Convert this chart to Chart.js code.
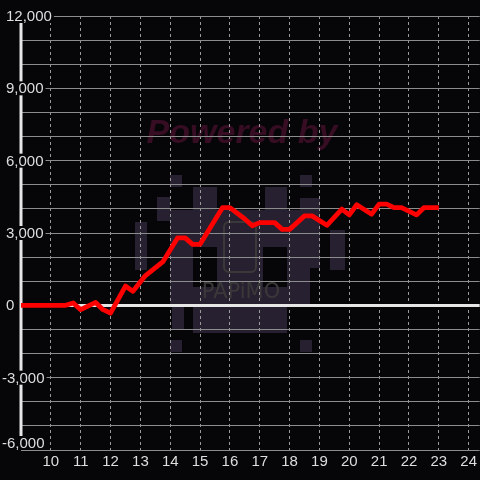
<!DOCTYPE html>
<html>
<head>
<meta charset="utf-8">
<script src="https://cdn.jsdelivr.net/npm/chart.js@4/dist/chart.umd.min.js"></script>
<style>
  html, body { margin: 0; padding: 0; background: #060508; }
  #wrap { width: 480px; height: 480px; }
</style>
</head>
<body>
<div id="wrap"><canvas id="myChart" width="480" height="480"></canvas></div>
<script>
// hour of day / running total
const hours = [9, 10.5, 10.75, 11, 11.5, 11.75, 12, 12.5, 12.75, 13.15, 13.75, 14.25, 14.5, 14.75, 15,
  15.75, 16, 16.5, 16.75, 17, 17.5, 17.75, 18, 18.5, 18.75, 19.25, 19.75, 20, 20.25, 20.75,
  21, 21.25, 21.5, 21.75, 22.25, 22.5, 23]
const totals = [0, 0, 100, -180, 120, -180, -320, 800, 580, 1210, 1800, 2800, 2800, 2530, 2530,
  4050, 4050, 3580, 3300, 3430, 3430, 3150, 3150, 3710, 3710, 3320, 3990, 3750, 4170, 3780,
  4200, 4200, 4050, 4050, 3750, 4050, 4050]
const xTicks = [10, 11, 12, 13, 14, 15, 16, 17, 18, 19, 20, 21, 22, 23, 24]
const yLabels = [12000, 9000, 6000, 3000, 0, -3000, -6000]

const BG = '#060508'
const TEXT = '#dedede'
const FONT = '15px "Liberation Sans", Arial, sans-serif'

const watermark = {
  id: 'watermark',
  beforeDraw (chart) {
    const ctx = chart.ctx
    ctx.save()
    ctx.fillStyle = BG
    ctx.fillRect(0, 0, chart.width, chart.height)
    // pixel figure
    ctx.fillStyle = '#272030'
    const blocks = [[170, 175, 12, 12], [300, 175, 12, 12], [157, 197, 13, 24], [135, 222, 12, 48],
      [193, 187, 24, 30], [170, 210, 140, 97], [193, 307, 94, 26], [300, 198, 20, 70],
      [330, 230, 15, 40], [170, 340, 12, 12], [300, 340, 12, 12], [265, 187, 22, 25], [172, 300, 12, 30]]
    blocks.forEach(b => ctx.fillRect(b[0], b[1], b[2], b[3]))
    ctx.fillStyle = BG
    ctx.fillRect(193, 247, 24, 40)
    ctx.fillRect(263, 247, 24, 40)
    ctx.strokeStyle = '#3a3838'
    ctx.lineWidth = 2
    ctx.beginPath()
    ctx.roundRect(224, 222, 32, 50, 5)
    ctx.stroke()
    ctx.fillStyle = '#3a3838'
    ctx.font = '21px "DejaVu Sans", sans-serif'
    ctx.textAlign = 'center'
    ctx.textBaseline = 'middle'
    ctx.fillText('PAPiMO', 241, 293)
    ctx.fillStyle = '#360d22'
    ctx.font = 'italic bold 34px "Liberation Sans", Arial, sans-serif'
    ctx.fillText('Powered by', 242, 134)
    ctx.restore()
  }
}

const yAxis = {
  id: 'yAxis',
  beforeDatasetsDraw (chart) {
    const ctx = chart.ctx
    const area = chart.chartArea
    const y = chart.scales.y
    ctx.save()
    ctx.strokeStyle = '#e6e6e6'
    ctx.lineWidth = 3
    ctx.beginPath()
    ctx.moveTo(area.left, area.top)
    ctx.lineTo(area.left, area.bottom)
    ctx.stroke()
    ctx.font = FONT
    ctx.textBaseline = 'middle'
    ctx.textAlign = 'left'
    yLabels.forEach(v => {
      const py = Math.min(y.getPixelForValue(v), area.bottom - 7)
      const txt = v.toLocaleString('en-US')
      const left = v < 0 ? 2 : 6
      const w = ctx.measureText(txt).width
      ctx.fillStyle = BG
      ctx.fillRect(left - 1, py - 7, w + 3, 14)
      ctx.fillStyle = TEXT
      ctx.fillText(txt, left, py + 1)
    })
    ctx.restore()
  }
}

new Chart(document.getElementById('myChart'), {
  type: 'line',
  data: {
    datasets: [{
      data: hours.map((h, i) => ({ x: h, y: totals[i] })),
      borderColor: '#ff0000',
      borderWidth: 4.8,
      pointRadius: 0,
      tension: 0,
      fill: false,
      borderJoinStyle: 'round'
    }]
  },
  plugins: [watermark, yAxis],
  options: {
    responsive: false,
    animation: false,
    layout: { padding: { top: 16, left: 21, right: 0, bottom: 6 } },
    plugins: { legend: { display: false }, tooltip: { enabled: false } },
    scales: {
      x: {
        type: 'linear',
        min: 9,
        max: 24.37,
        afterBuildTicks: axis => { axis.ticks = xTicks.map(v => ({ value: v })) },
        border: { display: false, dash: [3, 3] },
        grid: { color: '#9a9a9a', lineWidth: 1, drawTicks: false, borderDash: [3, 3], dash: [3, 3], tickBorderDash: [3, 3] },
        ticks: { color: TEXT, font: { size: 15, family: '"Liberation Sans", Arial, sans-serif' }, padding: 3, maxRotation: 0 }
      },
      y: {
        min: -6000,
        max: 12000,
        afterFit: axis => { axis.width = 0 },
        border: { display: false },
        grid: {
          drawTicks: false,
          color: ctx => ctx.tick && ctx.tick.value === 0 ? '#e6e6e6' : '#8c8c8c',
          lineWidth: ctx => ctx.tick && ctx.tick.value === 0 ? 3 : 1
        },
        ticks: { display: false, stepSize: 1000 }
      }
    }
  }
})
</script>
</body>
</html>
